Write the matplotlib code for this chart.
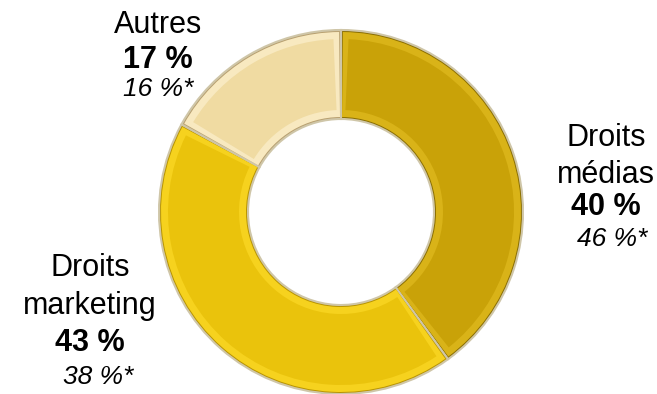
import matplotlib.pyplot as plt
from matplotlib.patches import Wedge

plt.rcParams['font.family'] = ['Liberation Sans', 'DejaVu Sans']

# data
categories = ["Droits médias", "Droits marketing", "Autres"]
shares = [40, 43, 17]
shares_prev = [46, 38, 16]
colors = ["#C9A208", "#EAC30C", "#F0DBA2"]
edge_dark = ["#8A6E00", "#B89400", "#B8A070"]
light = ["#D9B318", "#F6D21E", "#F8E9C0"]

fig = plt.figure(figsize=(6.57, 3.94), dpi=100)
ax = fig.add_axes([0, 0, 1, 1])

cx, cy = 341, 394 - 212
r_out, r_in = 182, 93

# base ring
wedges, _ = ax.pie(shares, colors=edge_dark, startangle=90, counterclock=False,
                   radius=r_out, center=(cx, cy),
                   wedgeprops=dict(width=r_out - r_in, edgecolor='#cfc6a8', linewidth=1.5),
                   frame=True)
ax.set_xlim(0, 657)
ax.set_ylim(0, 394)
ax.set_aspect('equal')
ax.axis('off')

# bevel plateau: inset wedges drawn from the same angles
bev = 9
for w, c, lc in zip(wedges, colors, light):
    t1, t2 = w.theta1, w.theta2
    ax.add_patch(Wedge((cx, cy), r_out - 2, t1 + 0.6, t2 - 0.6, width=r_out - r_in - 4,
                       facecolor=lc, edgecolor='none'))
    ax.add_patch(Wedge((cx, cy), r_out - bev, t1 + 2.5, t2 - 2.5, width=r_out - r_in - 2 * bev,
                       facecolor=c, edgecolor='none'))

# labels
fs = 22
fs_it = 19
lab = dict(ha='center', va='center', fontsize=fs, color='black')
# Droits médias
ax.text(606, 394 - 138, "Droits", **lab)
ax.text(606, 394 - 175, "médias", **lab)
ax.text(606, 394 - 207, f"{shares[0]} %", fontweight='bold', **lab)
ax.text(612, 394 - 239, f"{shares_prev[0]} %*", style='italic', ha='center', va='center', fontsize=fs_it)
# Droits marketing
ax.text(90, 394 - 268, "Droits", **lab)
ax.text(90, 394 - 306, "marketing", **lab)
ax.text(90, 394 - 343, f"{shares[1]} %", fontweight='bold', **lab)
ax.text(98, 394 - 377, f"{shares_prev[1]} %*", style='italic', ha='center', va='center', fontsize=fs_it)
# Autres
ax.text(158, 394 - 25, "Autres", **lab)
ax.text(158, 394 - 60, f"{shares[2]} %", fontweight='bold', **lab)
ax.text(158, 394 - 89, f"{shares_prev[2]} %*", style='italic', ha='center', va='center', fontsize=fs_it)

fig.savefig("out.png", dpi=100, facecolor='white')
